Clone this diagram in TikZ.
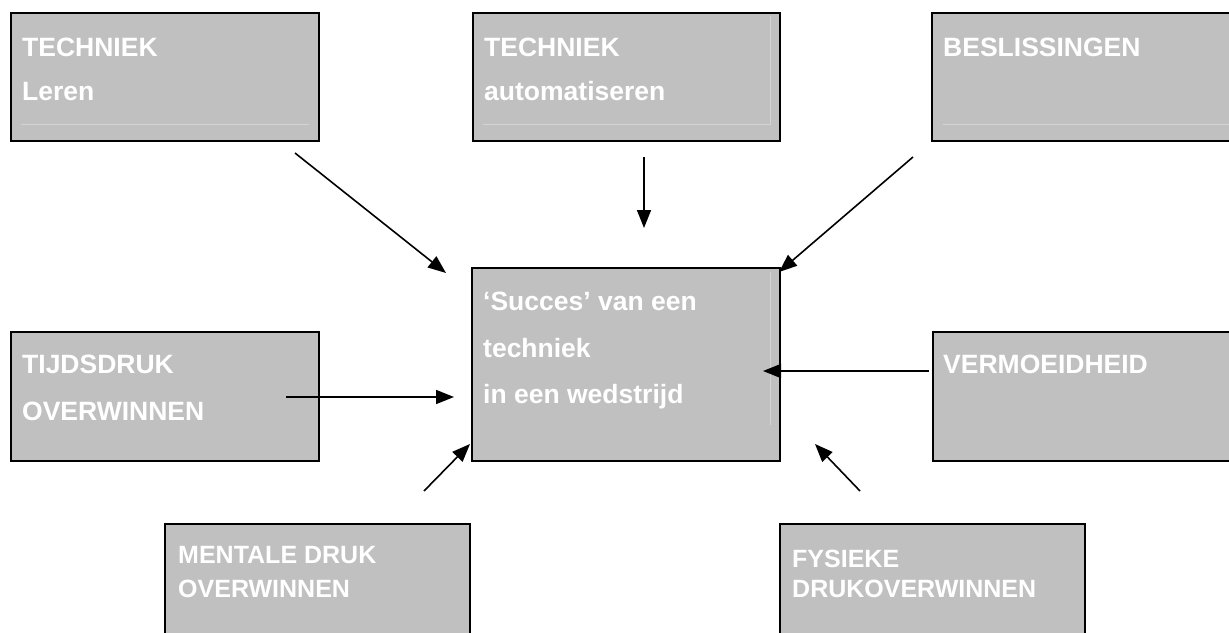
\documentclass[tikz,border=0pt]{standalone}
\usepackage{fontspec}
\setmainfont{Liberation Sans}
\usetikzlibrary{arrows.meta}
\definecolor{boxgray}{HTML}{C0C0C0}
\definecolor{faintline}{HTML}{D4D4D4}
\begin{document}
\begin{tikzpicture}[x=1pt,y=-1pt,
  boxnode/.style={draw=black, fill=boxgray, line width=#1, inner sep=0pt, outer sep=0pt, anchor=north west},
  big/.style={text=white, font=\fontsize{26.5}{30}\selectfont\bfseries, anchor=base west, inner sep=0pt},
  small/.style={text=white, font=\fontsize{25}{30}\selectfont\bfseries, anchor=base west, inner sep=0pt},
  conn/.style={line width=1.6pt, -{Triangle[length=18pt,width=14pt]}},
  faint/.style={draw=faintline, line width=0.8pt}
]
\useasboundingbox (0,0) rectangle (1229,632);
\clip (0,0) rectangle (1229,632);
\fill[white] (0,0) rectangle (1229,632);

% boxes
\node[boxnode=2pt, minimum width=308pt, minimum height=128pt] (b1) at (11,13) {};
\node[boxnode=2pt, minimum width=307pt, minimum height=128pt] (b2) at (473,13) {};
\node[boxnode=2pt, minimum width=313pt, minimum height=128pt] (b3) at (932,13) {};
\node[boxnode=1.6pt, minimum width=308pt, minimum height=193pt] (b4) at (472,268) {};
\node[boxnode=1.6pt, minimum width=308pt, minimum height=129pt] (b5) at (11,332) {};
\node[boxnode=1.6pt, minimum width=312pt, minimum height=129pt] (b6) at (933,332) {};
\node[boxnode=1.6pt, minimum width=305pt, minimum height=125pt] (b7) at (165,524) {};
\node[boxnode=1.6pt, minimum width=305pt, minimum height=125pt] (b8) at (780,524) {};

% faint inner lines
\draw[faint] (21,124) -- (309,124);
\draw[faint] (483,124) -- (770,124) -- (770,16);
\draw[faint] (943,124) -- (1229,124);
\draw[faint] (770,272) -- (770,425);

% texts
\node[big] (t1a) at (22,56) {TECHNIEK};
\node[big] (t1b) at (22,100) {Leren};
\node[big] (t2a) at (484,56) {TECHNIEK};
\node[big] (t2b) at (484,100) {automatiseren};
\node[big] (t3a) at (943,56) {BESLISSINGEN};
\node[big] (t4a) at (483,310) {‘Succes’ van een};
\node[big] (t4b) at (483,357) {techniek};
\node[big] (t4c) at (483,403) {in een wedstrijd};
\node[big] (t5a) at (22,373) {TIJDSDRUK};
\node[big] (t5b) at (22,420) {OVERWINNEN};
\node[big] (t6a) at (943,373) {VERMOEIDHEID};
\node[small] (t7a) at (178,563) {MENTALE DRUK};
\node[small] (t7b) at (178,597) {OVERWINNEN};
\node[small] (t8a) at (792,567) {FYSIEKE};
\node[small] (t8b) at (792,597) {DRUKOVERWINNEN};

% arrow end points
\coordinate (a1s) at (295,153);
\coordinate (a1e) at (446,273);
\coordinate (a2s) at (644,157);
\coordinate (a2e) at (644,228);
\coordinate (a3s) at (913,157);
\coordinate (a3e) at (779,272);
\coordinate (a4s) at (286,397);
\coordinate (a4e) at (454,397);
\coordinate (a5s) at (929,371);
\coordinate (a5e) at (763,371);
\coordinate (a6s) at (424,491);
\coordinate (a6e) at (470,444);
\coordinate (a7s) at (860,491);
\coordinate (a7e) at (815,444);

\draw[conn] (a1s) -- (a1e);
\draw[conn] (a2s) -- (a2e);
\draw[conn] (a3s) -- (a3e);
\draw[conn] (a4s) -- (a4e);
\draw[conn] (a5s) -- (a5e);
\draw[conn] (a6s) -- (a6e);
\draw[conn] (a7s) -- (a7e);
\end{tikzpicture}
\end{document}
